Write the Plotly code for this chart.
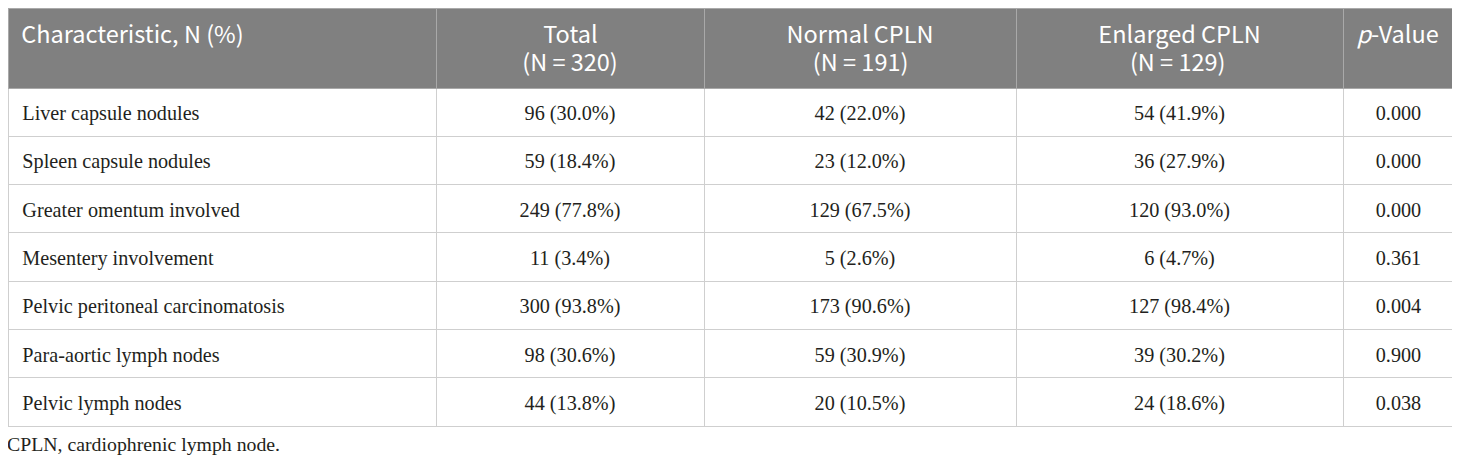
import plotly.graph_objects as go

W, H = 1460, 464

headers = ["Characteristic, N (%)", "Total<br>(N = 320)", "Normal CPLN<br>(N = 191)",
           "Enlarged CPLN<br>(N = 129)", "<i>p</i>-Value"]

characteristics = [
    "Liver capsule nodules",
    "Spleen capsule nodules",
    "Greater omentum involved",
    "Mesentery involvement",
    "Pelvic peritoneal carcinomatosis",
    "Para-aortic lymph nodes",
    "Pelvic lymph nodes",
]
total = ["96 (30.0%)", "59 (18.4%)", "249 (77.8%)", "11 (3.4%)",
         "300 (93.8%)", "98 (30.6%)", "44 (13.8%)"]
normal = ["42 (22.0%)", "23 (12.0%)", "129 (67.5%)", "5 (2.6%)",
          "173 (90.6%)", "59 (30.9%)", "20 (10.5%)"]
enlarged = ["54 (41.9%)", "36 (27.9%)", "120 (93.0%)", "6 (4.7%)",
            "127 (98.4%)", "39 (30.2%)", "24 (18.6%)"]
p_values = ["0.000", "0.000", "0.000", "0.361", "0.004", "0.900", "0.038"]

footnote = "CPLN, cardiophrenic lymph node."

# plotly left-aligns the lines of a centred cell, so the short line of each
# two-line header gets some no-break spaces in front (first line, second line)
head_pad = [(1, 0), (4, 0), (0, 5), (0, 6), (0, 0)]

NB = "\u00a0"
EN = "\u2002"
HEAD_SPAN = '<span style="font-size:23.5px">%s</span>'
# a tall-ascent blank pushes the serif text down to the row centre
STRUT = '<span style="font-family:Noto Sans CJK SC;font-size:20.7px">' + NB + '</span>'


# a <br> in every cell stops plotly's own word wrapping from splitting the tags
def head(label, pads, tail=""):
    parts = label.split("<br>")
    parts = [NB * n + p for n, p in zip(pads, parts)]
    if len(parts) == 2:
        return "<br>".join(HEAD_SPAN % p for p in parts)
    return HEAD_SPAN % (parts[0] + tail) + "<br>"


def left_cell(text):
    return STRUT + "\u200a" + text + "<br>"


def mid_cell(text, tail=""):
    return STRUT + text + tail + STRUT + "<br>"


# last column is drawn wider: plotly keeps ~10px on the right for a scrollbar
fig = go.Figure()
fig.add_trace(go.Table(
    domain=dict(x=[0, 1456 / W], y=[0, 1]),
    columnwidth=[428, 268, 312, 327, 121],
    header=dict(
        values=[head(h, p, EN if i == 4 else "")
                for i, (h, p) in enumerate(zip(headers, head_pad))],
        align=["left", "center", "center", "center", "center"],
        fill_color="#808080",
        line=dict(color="#a9a9a9", width=1),
        font=dict(family="Noto Sans CJK SC", size=21.5, color="white"),
        height=80,
    ),
    cells=dict(
        values=[[left_cell(c) for c in characteristics],
                [mid_cell(v) for v in total],
                [mid_cell(v) for v in normal],
                [mid_cell(v) for v in enlarged],
                [mid_cell(v, EN) for v in p_values]],
        align=["left", "center", "center", "center", "center"],
        fill_color="white",
        line=dict(color="#cfcfcf", width=1),
        font=dict(family="Liberation Serif", size=20.2, color="#231f20"),
        height=48.3,
    ),
))

fig.add_annotation(
    text=footnote, x=0, y=1 - 436 / H, xref="paper", yref="paper",
    xanchor="left", yanchor="middle", showarrow=False, xshift=-3,
    font=dict(family="Liberation Serif", size=19.8, color="#231f20"),
)

fig.update_layout(width=W, height=H, margin=dict(l=0, r=0, t=0, b=0),
                  paper_bgcolor="white", plot_bgcolor="white")

fig.write_html("out.html")
